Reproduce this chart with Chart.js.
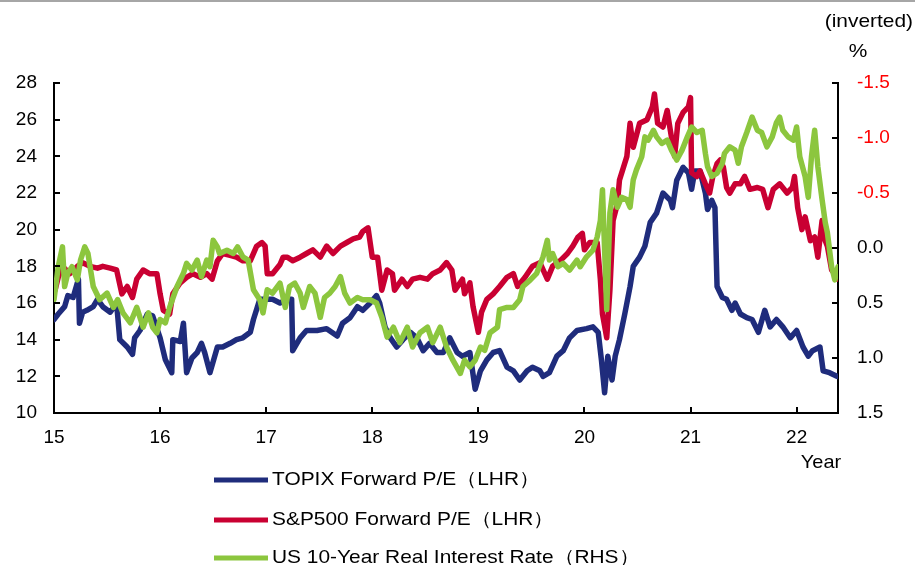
<!DOCTYPE html>
<html>
<head>
<meta charset="utf-8">
<script src="https://cdn.jsdelivr.net/npm/chart.js@4"></script>
<style>
  body { margin: 0; background: #fff; }
  #wrap { position: relative; width: 915px; height: 565px; }
</style>
</head>
<body>
<div id="wrap"><canvas id="graficoPER"></canvas></div>
<script>
// TOPIX forward P/E (left axis)
const topixYears = [15.00,15.04,15.10,15.13,15.18,15.23,15.24,15.27,15.31,15.37,15.41,15.46,15.53,15.59,15.62,15.69,15.74,15.76,15.81,15.88,15.93,16.00,16.05,16.11,16.12,16.19,16.22,16.25,16.30,16.35,16.39,16.42,16.47,16.54,16.59,16.66,16.72,16.78,16.85,16.88,16.94,17.01,17.06,17.13,17.20,17.24,17.25,17.32,17.38,17.48,17.57,17.67,17.72,17.79,17.86,17.91,17.98,18.04,18.07,18.12,18.17,18.23,18.29,18.36,18.42,18.48,18.54,18.61,18.67,18.73,18.80,18.85,18.92,18.97,19.02,19.08,19.14,19.20,19.27,19.33,19.39,19.46,19.51,19.58,19.61,19.67,19.74,19.80,19.86,19.93,20.02,20.08,20.13,20.16,20.19,20.22,20.26,20.29,20.33,20.38,20.43,20.46,20.52,20.57,20.62,20.68,20.74,20.81,20.83,20.87,20.93,20.98,21.01,21.04,21.09,21.14,21.16,21.20,21.23,21.25,21.30,21.34,21.39,21.42,21.47,21.53,21.58,21.64,21.70,21.75,21.81,21.87,21.94,22.00,22.06,22.11,22.15,22.22,22.25,22.31,22.38];
const topixPE = [15.1,15.4,15.8,16.4,16.3,17.3,14.9,15.5,15.6,15.8,16.2,15.8,15.5,16.0,14.0,13.6,13.2,14.1,14.5,15.4,15.3,14.1,12.9,12.2,14.0,13.9,14.9,12.2,13.0,13.3,13.8,13.3,12.2,13.6,13.6,13.8,14.0,14.1,14.4,15.1,16.2,16.2,16.2,16.0,16.2,16.2,13.4,14.1,14.5,14.5,14.6,14.2,14.9,15.2,15.8,15.6,16.0,16.4,16.0,14.7,14.1,13.6,14.0,14.4,14.1,13.4,13.8,13.3,13.3,14.1,13.3,13.1,13.3,11.3,12.3,12.9,13.3,13.4,12.5,12.3,11.8,12.3,12.5,12.3,12.0,12.2,13.1,13.4,14.1,14.5,14.6,14.7,14.4,12.9,11.1,13.1,11.8,13.1,14.0,15.4,16.9,18.0,18.5,19.1,20.4,20.9,22.0,21.6,21.2,22.7,23.4,23.1,22.2,23.2,23.2,22.0,21.1,21.6,21.2,16.9,16.3,16.2,15.6,16.0,15.4,15.2,15.1,14.4,15.6,14.7,15.1,14.7,14.1,14.5,13.6,13.1,13.4,13.6,12.3,12.2,12.0];

// S&P500 forward P/E (left axis)
const spYears = [15.01,15.04,15.08,15.15,15.22,15.27,15.34,15.41,15.46,15.53,15.59,15.64,15.69,15.74,15.78,15.84,15.90,15.97,16.00,16.03,16.09,16.12,16.19,16.25,16.31,16.38,16.44,16.49,16.54,16.59,16.66,16.72,16.78,16.85,16.91,16.96,16.99,17.01,17.06,17.13,17.16,17.20,17.25,17.32,17.38,17.44,17.51,17.57,17.63,17.70,17.76,17.82,17.88,17.91,17.96,18.00,18.05,18.09,18.14,18.19,18.21,18.28,18.33,18.38,18.45,18.52,18.57,18.64,18.70,18.75,18.78,18.85,18.87,18.92,18.95,19.00,19.03,19.08,19.14,19.20,19.27,19.33,19.37,19.44,19.51,19.58,19.65,19.70,19.77,19.84,19.89,19.94,19.98,20.00,20.05,20.12,20.15,20.17,20.21,20.24,20.27,20.31,20.33,20.40,20.43,20.46,20.52,20.59,20.64,20.66,20.69,20.74,20.78,20.81,20.85,20.88,20.93,20.98,21.00,21.01,21.06,21.09,21.14,21.18,21.21,21.25,21.28,21.31,21.34,21.37,21.42,21.47,21.51,21.56,21.63,21.68,21.73,21.78,21.84,21.91,21.96,21.98,22.01,22.05,22.08,22.13,22.17,22.20,22.24,22.27,22.29,22.33,22.36,22.39];
const spPE = [16.7,17.4,18.0,17.6,18.0,18.2,18.0,17.9,18.0,17.9,17.8,16.5,16.9,16.3,17.3,17.8,17.6,17.6,16.5,15.6,15.4,16.5,17.1,17.4,17.6,17.4,17.6,17.3,18.3,18.7,18.6,18.5,18.3,18.3,19.1,19.3,19.1,17.6,17.6,18.1,18.5,18.5,18.3,18.5,18.7,18.9,18.5,19.1,18.7,19.1,19.3,19.5,19.6,19.9,20.1,18.5,18.5,16.7,17.8,17.6,16.7,17.3,16.9,17.3,17.4,17.3,17.6,17.8,18.2,17.8,16.7,17.3,16.5,17.1,15.8,14.4,15.5,16.2,16.5,16.9,17.4,17.6,16.9,17.4,18.0,18.2,17.3,18.0,18.3,18.7,19.1,19.6,19.8,18.9,19.3,19.3,17.3,15.4,14.1,16.7,20.5,21.4,22.7,24.0,25.8,24.5,25.8,26.0,26.7,27.4,25.8,25.6,26.5,25.4,24.0,25.8,26.4,26.7,27.2,23.1,22.9,23.2,22.5,22.0,22.9,23.6,23.8,23.4,22.3,22.0,22.5,22.5,22.9,22.2,22.3,22.2,21.2,22.2,22.5,22.0,22.3,22.9,21.2,20.0,20.7,19.4,19.6,18.5,20.5,19.4,19.1,17.8,17.6,17.3];

// US 10-year real interest rate, % (right axis, inverted)
const realYears = [15.00,15.04,15.08,15.10,15.13,15.17,15.22,15.25,15.29,15.32,15.37,15.43,15.50,15.56,15.60,15.65,15.72,15.78,15.84,15.89,15.93,15.97,16.00,16.05,16.09,16.16,16.22,16.25,16.30,16.35,16.39,16.44,16.47,16.50,16.54,16.56,16.63,16.69,16.73,16.78,16.83,16.88,16.94,16.97,17.01,17.06,17.13,17.18,17.22,17.27,17.32,17.35,17.41,17.46,17.51,17.55,17.60,17.65,17.70,17.74,17.79,17.86,17.91,17.98,18.04,18.09,18.14,18.20,18.26,18.33,18.38,18.45,18.52,18.57,18.64,18.70,18.76,18.83,18.87,18.92,18.97,19.02,19.06,19.11,19.18,19.20,19.27,19.33,19.39,19.42,19.49,19.55,19.61,19.65,19.67,19.70,19.75,19.80,19.86,19.93,19.96,20.02,20.08,20.12,20.15,20.17,20.21,20.24,20.27,20.31,20.35,20.40,20.43,20.46,20.49,20.54,20.57,20.60,20.65,20.68,20.73,20.78,20.82,20.87,20.92,20.97,21.01,21.06,21.11,21.14,21.16,21.20,21.25,21.30,21.32,21.37,21.42,21.45,21.48,21.53,21.58,21.63,21.67,21.72,21.77,21.81,21.84,21.87,21.92,21.97,22.00,22.03,22.08,22.11,22.14,22.17,22.20,22.24,22.27,22.29,22.33,22.36,22.39];
const realRate = [0.47,0.17,-0.01,0.35,0.23,0.17,0.29,0.11,-0.01,0.05,0.35,0.47,0.41,0.54,0.47,0.59,0.68,0.54,0.72,0.59,0.72,0.77,0.65,0.68,0.54,0.35,0.23,0.14,0.20,0.11,0.26,0.11,0.17,-0.07,-0.01,0.05,0.02,0.05,-0.01,0.08,0.11,0.38,0.47,0.59,0.38,0.41,0.32,0.54,0.35,0.32,0.41,0.54,0.35,0.41,0.63,0.45,0.41,0.35,0.26,0.41,0.50,0.45,0.47,0.47,0.50,0.63,0.81,0.72,0.86,0.72,0.90,0.77,0.72,0.86,0.72,0.90,1.02,1.14,1.02,1.08,1.02,0.90,0.93,0.77,0.72,0.56,0.54,0.54,0.47,0.35,0.29,0.23,0.08,-0.07,0.11,0.05,0.17,0.14,0.20,0.11,0.17,0.08,0.02,-0.10,-0.25,-0.53,0.56,-0.32,-0.53,-0.37,-0.46,-0.44,-0.37,-0.62,-0.71,-0.83,-1.01,-0.98,-1.07,-1.01,-0.95,-0.98,-0.89,-0.80,-0.89,-1.01,-1.10,-1.05,-1.07,-0.86,-0.74,-0.65,-0.68,-0.77,-0.86,-0.92,-0.89,-0.77,-0.92,-1.05,-1.19,-1.07,-1.05,-0.92,-1.01,-1.14,-1.19,-1.07,-1.01,-0.98,-1.10,-0.83,-0.65,-0.46,-0.83,-1.07,-0.74,-0.44,-0.23,-0.14,0.17,0.29,0.17];

const xTickLabels = [15, 16, 17, 18, 19, 20, 21, 22];
const seriesNames = ['TOPIX Forward P/E（LHR）', 'S&P500 Forward P/E（LHR）', 'US 10-Year Real Interest Rate（RHS）'];

const FUENTE = "'Liberation Sans', Arial, sans-serif";
Chart.defaults.font.family = FUENTE;
Chart.defaults.font.size = 19;
Chart.defaults.color = '#000';

function pares(xs, ys) {
  return xs.map((x, i) => ({ x: x, y: ys[i] }));
}

// texto un poco ensanchado, como en el original
function textoAncho(ctx, txt, x, y, align, sx) {
  ctx.save();
  ctx.translate(x, y);
  ctx.scale(sx, 1);
  ctx.textAlign = align;
  ctx.fillText(txt, 0, 0);
  ctx.restore();
}

// ticks hacia dentro, textos sueltos y leyenda vertical
const decoraciones = {
  id: 'decoraciones',
  afterDraw(chart) {
    const ctx = chart.ctx;
    const sx = chart.scales.x, sy = chart.scales.y, sr = chart.scales.yR;
    ctx.save();
    ctx.strokeStyle = '#a6a6a6';
    ctx.lineWidth = 2;
    ctx.beginPath(); ctx.moveTo(0, 1); ctx.lineTo(915, 1); ctx.stroke();

    ctx.strokeStyle = '#000';
    ctx.lineWidth = 2;
    ctx.beginPath();
    sx.ticks.forEach(t => {
      const px = Math.round(sx.getPixelForValue(t.value));
      ctx.moveTo(px, sx.top); ctx.lineTo(px, sx.top - 6);
    });
    sy.ticks.forEach(t => {
      const py = Math.round(sy.getPixelForValue(t.value));
      ctx.moveTo(sy.right, py); ctx.lineTo(sy.right + 6, py);
    });
    sr.ticks.forEach(t => {
      const py = Math.round(sr.getPixelForValue(t.value));
      ctx.moveTo(sr.left, py); ctx.lineTo(sr.left - 6, py);
    });
    ctx.stroke();

    ctx.fillStyle = '#000';
    ctx.font = '19px ' + FUENTE;
    ctx.textBaseline = 'middle';
    textoAncho(ctx, '(inverted)', 913, 22, 'right', 1.1);
    textoAncho(ctx, '%', 858, 52, 'center', 1.1);
    textoAncho(ctx, 'Year', 821, 463, 'center', 1.05);

    // leyenda
    const filas = [480, 520, 558];
    chart.data.datasets.forEach((ds, i) => {
      const yy = filas[i];
      ctx.strokeStyle = ds.borderColor;
      ctx.lineWidth = 5;
      ctx.lineCap = 'butt';
      ctx.beginPath(); ctx.moveTo(214, yy); ctx.lineTo(268, yy); ctx.stroke();
      textoAncho(ctx, ds.label, 272, yy, 'left', 1.1);
    });
    ctx.restore();
  }
};

const ctxPER = document.getElementById('graficoPER').getContext('2d');

new Chart(ctxPER, {
  type: 'line',
  data: {
    datasets: [
      {
        label: seriesNames[0],
        data: pares(topixYears, topixPE),
        yAxisID: 'y',
        borderColor: '#1f2c7c',
        order: 2
      },
      {
        label: seriesNames[1],
        data: pares(spYears, spPE),
        yAxisID: 'y',
        borderColor: '#c90032',
        order: 1
      },
      {
        label: seriesNames[2],
        data: pares(realYears, realRate),
        yAxisID: 'yR',
        borderColor: '#8cc63e',
        order: 0
      }
    ]
  },
  options: {
    responsive: true,
    maintainAspectRatio: false,
    animation: false,
    devicePixelRatio: 1,
    layout: { padding: { top: 83, left: 0, right: 0, bottom: 0 } },
    elements: {
      line: { borderWidth: 5.5, tension: 0, borderJoinStyle: 'round', borderCapStyle: 'round' },
      point: { radius: 0, hoverRadius: 0 }
    },
    plugins: {
      legend: { display: false },
      tooltip: { enabled: false }
    },
    scales: {
      x: {
        type: 'linear',
        min: 15,
        max: 22.39,
        grid: { display: false, drawTicks: false },
        border: { display: true, color: '#000', width: 2 },
        ticks: { padding: 13, maxRotation: 0, callback: v => String(v) },
        afterBuildTicks: s => { s.ticks = xTickLabels.map(v => ({ value: v })); },
        afterFit: s => { s.height = 152; }
      },
      y: {
        position: 'left',
        min: 10,
        max: 28,
        grid: { display: false, drawTicks: false },
        border: { display: true, color: '#000', width: 2 },
        ticks: { stepSize: 2, padding: 17 },
        afterFit: s => { s.width = 54; }
      },
      yR: {
        position: 'right',
        reverse: true,
        min: -1.5,
        max: 1.5,
        grid: { display: false, drawTicks: false },
        border: { display: true, color: '#000', width: 2 },
        ticks: {
          stepSize: 0.5,
          padding: 19,
          callback: v => v.toFixed(1),
          color: c => (c.tick && c.tick.value < 0 ? '#ff0000' : '#000')
        },
        afterFit: s => { s.width = 77; }
      }
    }
  },
  plugins: [decoraciones]
});
</script>
</body>
</html>
